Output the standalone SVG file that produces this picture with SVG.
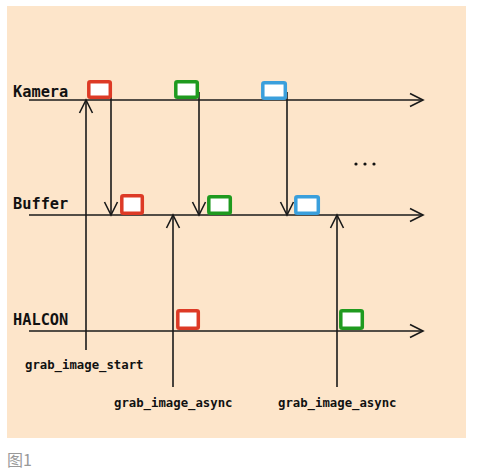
<svg xmlns="http://www.w3.org/2000/svg" width="477" height="475" viewBox="0 0 477 475">
<style>
.ln{stroke:#1a1a1a;stroke-width:1.6;fill:none}
.lbl{font-family:"DejaVu Sans Mono","Liberation Mono",monospace;font-weight:bold;font-size:15.3px;fill:#111}
.fn{font-family:"DejaVu Sans Mono","Liberation Mono",monospace;font-weight:bold;font-size:12.3px;fill:#111}
.box{fill:#ffffff;stroke-width:3.5}
.r{stroke:#dd3a26}
.g{stroke:#1f9a1f}
.b{stroke:#3a9fdc}
</style>
<defs>
<marker id="ah" markerUnits="userSpaceOnUse" markerWidth="16" markerHeight="16" viewBox="-14 -8 16 16" refX="0" refY="0" orient="auto">
<polyline points="-13,-6.5 0,0 -13,6.5" fill="none" stroke="#1a1a1a" stroke-width="1.6"/>
</marker>
</defs>
<rect x="7" y="6" width="459" height="432" fill="#fde5ca"/>
<g id="connectors">
<line class="ln" x1="29" y1="100" x2="423" y2="100" marker-end="url(#ah)"/>
<line class="ln" x1="29" y1="215" x2="423" y2="215" marker-end="url(#ah)"/>
<line class="ln" x1="29" y1="331" x2="423" y2="331" marker-end="url(#ah)"/>
<line class="ln" x1="86" y1="350" x2="86" y2="100" marker-end="url(#ah)"/>
<line class="ln" x1="111" y1="92" x2="111" y2="215" marker-end="url(#ah)"/>
<line class="ln" x1="199" y1="92" x2="199" y2="215" marker-end="url(#ah)"/>
<line class="ln" x1="287" y1="92" x2="287" y2="215" marker-end="url(#ah)"/>
<line class="ln" x1="173" y1="387" x2="173" y2="215" marker-end="url(#ah)"/>
<line class="ln" x1="337" y1="387" x2="337" y2="215" marker-end="url(#ah)"/>
</g>
<g id="lane-kamera"><text class="lbl" x="13" y="97">Kamera</text></g>
<g id="lane-buffer"><text class="lbl" x="13" y="209">Buffer</text></g>
<g id="lane-halcon"><text class="lbl" x="13" y="325">HALCON</text></g>
<g id="k-red"><rect class="box r" x="88.8" y="81.8" width="21.5" height="15.5" rx="1.5"/></g>
<g id="k-green"><rect class="box g" x="175.8" y="81.8" width="21.5" height="15.5" rx="1.5"/></g>
<g id="k-blue"><rect class="box b" x="262.8" y="82.8" width="22.5" height="15.5" rx="1.5"/></g>
<g id="b-red"><rect class="box r" x="121.8" y="195.8" width="20.5" height="17.5" rx="1.5"/></g>
<g id="b-green"><rect class="box g" x="208.8" y="196.8" width="21.5" height="16.5" rx="1.5"/></g>
<g id="b-blue"><rect class="box b" x="295.8" y="196.8" width="22.5" height="16.5" rx="1.5"/></g>
<g id="h-red"><rect class="box r" x="177.8" y="310.8" width="20.5" height="17.5" rx="1.5"/></g>
<g id="h-green"><rect class="box g" x="340.8" y="310.8" width="21.5" height="17.5" rx="1.5"/></g>
<g id="label-start"><text class="fn" x="25" y="369">grab_image_start</text></g>
<g id="label-async1"><text class="fn" x="114" y="407">grab_image_async</text></g>
<g id="label-async2"><text class="fn" x="278" y="407">grab_image_async</text></g>
<g id="ellipsis" fill="#111">
<circle cx="356" cy="164" r="1.6"/>
<circle cx="365" cy="164" r="1.6"/>
<circle cx="374" cy="164" r="1.6"/>
</g>
<text x="7" y="466" font-family="'Noto Sans CJK SC','Noto Sans',sans-serif" font-size="16" fill="#999">图1</text>
</svg>
